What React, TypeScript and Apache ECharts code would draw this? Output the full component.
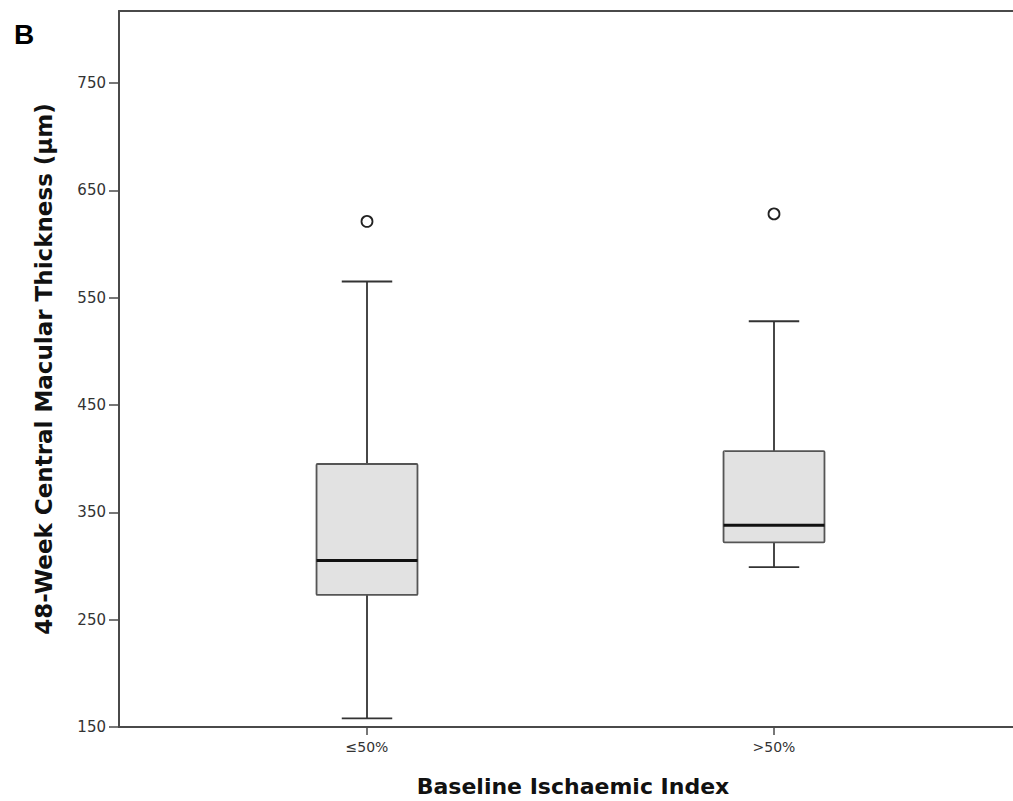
import React, { useEffect, useRef } from "react";
import * as echarts from "echarts";

const categories = ["≤50%", ">50%"];
// [lowerWhisker, Q1, median, Q3, upperWhisker]
const boxStats = [
  [158, 273, 305, 395, 565],
  [299, 322, 338, 407, 528],
];
const outliers = [
  [0, 621],
  [1, 628],
];
const yTicks = { min: 150, max: 817, interval: 100 };

export default function App() {
  const ref = useRef<HTMLDivElement>(null);
  useEffect(() => {
    if (!ref.current) return;
    const chart = echarts.init(ref.current, null, { renderer: "svg" });
    const lineColor = "#4a4a4a";
    const labelFont = "DejaVu Sans";
    const option: any = {
      animation: false,
      backgroundColor: "#ffffff",
      graphic: [
        {
          type: "text",
          left: 14,
          top: 20,
          style: { text: "B", font: "bold 28px 'Liberation Sans', Arial", fill: "#000" },
        },
      ],
      grid: [
        { left: 119, right: 0, top: 11, bottom: 74, outerBoundsMode: "none", containLabel: false },
        { left: 163.5, width: 814, top: 11, bottom: 74, outerBoundsMode: "none", containLabel: false },
      ],
      xAxis: [
        {
          gridIndex: 0,
          type: "value",
          min: 0,
          max: 1,
          position: "bottom",
          axisLine: { show: true, onZero: false, lineStyle: { color: lineColor, width: 2 } },
          axisTick: { show: false },
          axisLabel: { show: false },
          splitLine: { show: false },
          name: "Baseline Ischaemic Index",
          nameLocation: "middle",
          nameGap: 48,
          nameTextStyle: { fontFamily: labelFont, fontWeight: "bold", fontSize: 22, color: "#111", padding: [0, 0, 0, 14] },
        },
        {
          gridIndex: 0,
          type: "value",
          min: 0,
          max: 1,
          position: "top",
          axisLine: { show: true, onZero: false, lineStyle: { color: lineColor, width: 2 } },
          axisTick: { show: false },
          axisLabel: { show: false },
          splitLine: { show: false },
        },
        {
          gridIndex: 1,
          type: "category",
          data: categories,
          position: "bottom",
          axisLine: { show: false },
          axisTick: { show: true, alignWithLabel: true, length: 8, lineStyle: { color: lineColor, width: 1.5 } },
          axisLabel: { show: true, fontFamily: labelFont, fontSize: 14, color: "#333", margin: 13 },
          splitLine: { show: false },
        },
      ],
      yAxis: [
        {
          gridIndex: 0,
          type: "value",
          min: yTicks.min,
          max: yTicks.max,
          interval: yTicks.interval,
          axisLine: { show: true, lineStyle: { color: lineColor, width: 2 } },
          axisTick: { show: true, length: 10, lineStyle: { color: lineColor, width: 1.5 } },
          axisLabel: { fontFamily: labelFont, fontSize: 15, color: "#333", margin: 13, showMaxLabel: false },
          splitLine: { show: false },
          name: "48-Week Central Macular Thickness (µm)",
          nameLocation: "middle",
          nameGap: 64,
          nameRotate: 90,
          nameTextStyle: { fontFamily: labelFont, fontWeight: "bold", fontSize: 23, color: "#111", padding: [0, 0, 0, 0] },
        },
        {
          gridIndex: 1,
          type: "value",
          min: yTicks.min,
          max: yTicks.max,
          show: false,
        },
      ],
      series: [
        {
          type: "custom",
          xAxisIndex: 2,
          yAxisIndex: 1,
          data: boxStats.map((s, i) => [i, ...s]),
          encode: { x: 0, y: [1, 2, 3, 4, 5] },
          renderItem: (params: any, api: any) => {
            const idx = api.value(0);
            const low = api.value(1);
            const q1 = api.value(2);
            const med = api.value(3);
            const q3 = api.value(4);
            const high = api.value(5);
            const band = api.size([1, 0])[0];
            const bw = band * 0.248;
            const cw = bw / 2;
            const pLow = api.coord([idx, low]);
            const pQ1 = api.coord([idx, q1]);
            const pMed = api.coord([idx, med]);
            const pQ3 = api.coord([idx, q3]);
            const pHigh = api.coord([idx, high]);
            const cx = pMed[0];
            const stroke = { stroke: "#333", lineWidth: 1.8 };
            return {
              type: "group",
              children: [
                { type: "line", shape: { x1: cx, y1: pHigh[1], x2: cx, y2: pQ3[1] }, style: stroke },
                { type: "line", shape: { x1: cx, y1: pQ1[1], x2: cx, y2: pLow[1] }, style: stroke },
                { type: "line", shape: { x1: cx - cw / 2, y1: pHigh[1], x2: cx + cw / 2, y2: pHigh[1] }, style: stroke },
                { type: "line", shape: { x1: cx - cw / 2, y1: pLow[1], x2: cx + cw / 2, y2: pLow[1] }, style: stroke },
                {
                  type: "rect",
                  shape: { x: cx - bw / 2, y: pQ3[1], width: bw, height: pQ1[1] - pQ3[1], r: 1 },
                  style: { fill: "#e2e2e2", stroke: "#555", lineWidth: 1.8 },
                },
                { type: "line", shape: { x1: cx - bw / 2, y1: pMed[1], x2: cx + bw / 2, y2: pMed[1] }, style: { stroke: "#111", lineWidth: 3 } },
              ],
            };
          },
        },
        {
          type: "scatter",
          xAxisIndex: 2,
          yAxisIndex: 1,
          data: outliers,
          symbol: "circle",
          symbolSize: 11,
          itemStyle: { color: "#ffffff", borderColor: "#222", borderWidth: 1.8, opacity: 1 },
        },
      ],
    };
    chart.setOption(option);
    return () => chart.dispose();
  }, []);
  return (
    <div
      ref={ref}
      style={{ position: "absolute", left: 0, top: 0, width: 1013, height: 801 }}
    />
  );
}
